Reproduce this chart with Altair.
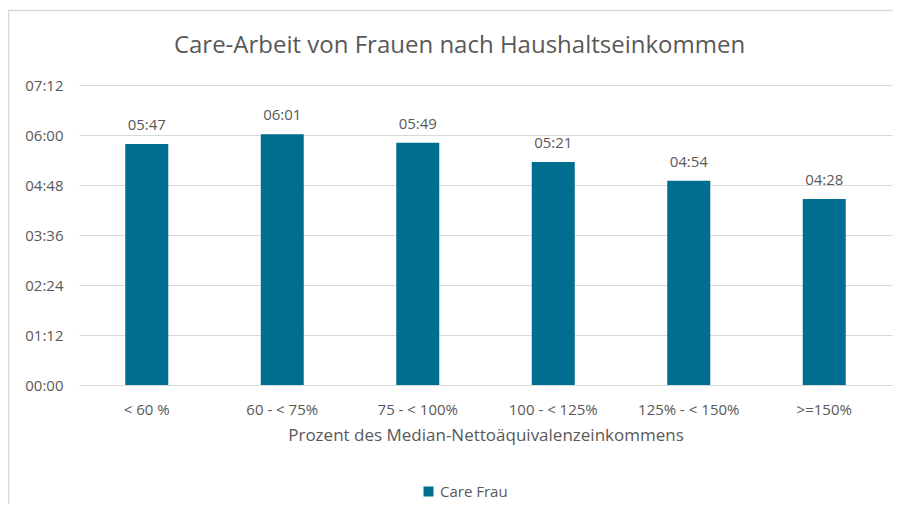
import altair as alt
import pandas as pd

categories = ["< 60 %", "60 - < 75%", "75 - < 100%", "100 - < 125%", "125% - < 150%", ">=150%"]
minutes = [347, 361, 349, 321, 294, 268]  # 05:47, 06:01, 05:49, 05:21, 04:54, 04:28
series = ["Care Frau"] * len(categories)
y_ticks = [0, 72, 144, 216, 288, 360, 432]
title_text = ["Care-Arbeit von Frauen nach Haushaltseinkommen"]

df = pd.DataFrame({"cat": categories, "min": minutes, "series": series})

FONT = "Open Sans"
GREY = "#595959"
BAR = "#006E91"
W, H = 813, 300

fmt = "format(floor({v}/60),'02d') + ':' + format({v}%60,'02d')"

x = alt.X("cat:N", sort=categories,
          scale=alt.Scale(paddingInner=0.68, paddingOuter=0.34),
          axis=alt.Axis(title="Prozent des Median-Nettoäquivalenzeinkommens",
                        labelAngle=0, labelFont=FONT, labelFontSize=15, labelColor=GREY,
                        titleFont=FONT, titleFontSize=17, titleColor=GREY, titleFontWeight="normal",
                        labelPadding=17, titlePadding=10, ticks=False,
                        domainColor="#D9D9D9", domainWidth=1))
y = alt.Y("min:Q", scale=alt.Scale(domain=[0, 432], nice=False),
          axis=alt.Axis(values=y_ticks, labelExpr=fmt.format(v="datum.value"), title=None,
                        labelFont=FONT, labelFontSize=15, labelColor=GREY, labelPadding=16,
                        ticks=False, domain=False, gridColor="#D9D9D9", gridWidth=1))

one = pd.DataFrame({"a": [0]})
frame_top = alt.Chart(one).mark_rule(stroke="#D9D9D9", strokeWidth=1.5).encode(
    x=alt.value(-70.5), x2=alt.value(W + 100), y=alt.value(-74.5))
frame_left = alt.Chart(one).mark_rule(stroke="#D9D9D9", strokeWidth=1.5).encode(
    x=alt.value(-70.5), y=alt.value(-74.5), y2=alt.value(H + 200))

title = alt.Chart(pd.DataFrame({"t": title_text})).mark_text(
    font=FONT, fontSize=24, color=GREY, align="center", baseline="alphabetic").encode(
    x=alt.value(W / 2 - 26), y=alt.value(-32), text="t:N")

bars = alt.Chart(df).mark_bar(size=43).encode(
    x=x, y=y,
    color=alt.Color("series:N", scale=alt.Scale(range=[BAR]),
                    legend=alt.Legend(title=None, orient="none", legendX=342, legendY=399,
                                      symbolType="square", symbolSize=100, symbolStrokeWidth=0,
                                      labelFont=FONT, labelFontSize=15, labelColor=GREY,
                                      labelOffset=4)))

labels = alt.Chart(df).transform_calculate(
    lab=fmt.format(v="datum.min")).mark_text(
    baseline="alphabetic", dy=-14, font=FONT, fontSize=15, color=GREY).encode(
    x=alt.X("cat:N", sort=categories), y="min:Q", text="lab:N")

chart = alt.layer(frame_top, frame_left, title, bars, labels).properties(
    width=W, height=H,
    autosize=alt.AutoSizeParams(type="none"),
    padding={"left": 71, "top": 77, "right": 1, "bottom": 119},
).configure(background="white").configure_view(stroke=None)

chart.save("out.html", embed_options={"renderer": "svg", "actions": False})
